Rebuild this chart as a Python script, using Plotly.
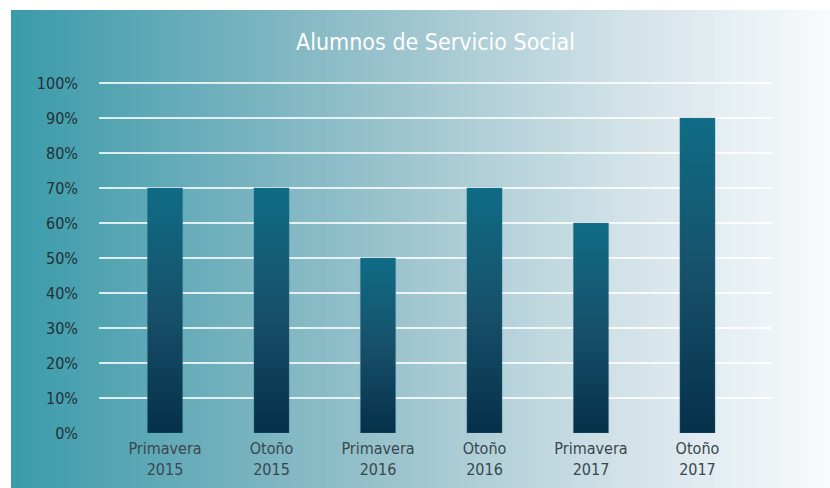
import plotly.graph_objects as go

# data
periodos = ['Primavera<br>2015', 'Otoño<br>2015', 'Primavera<br>2016',
            'Otoño<br>2016', 'Primavera<br>2017', 'Otoño<br>2017']
porcentaje = [0.70, 0.70, 0.50, 0.70, 0.60, 0.90]
ticks_y = [0, 0.1, 0.2, 0.3, 0.4, 0.5, 0.6, 0.7, 0.8, 0.9, 1.0]

W, H = 830, 488
L, R, T, B = 99, 58, 82, 55
ancho = 0.33
fuente = 'DejaVu Sans Condensed, Liberation Sans Narrow, Roboto, sans-serif'

fig = go.Figure()

# bars as filled shapes so each one gets its own vertical gradient
for i, v in enumerate(porcentaje):
    x0, x1 = i - ancho / 2, i + ancho / 2
    fig.add_trace(go.Scatter(
        x=[x0, x0, x1, x1, x0], y=[0, v, v, 0, 0],
        mode='lines', line=dict(width=0.6, color='rgba(60,120,145,0.6)'),
        fill='toself',
        fillgradient=dict(type='vertical',
                          colorscale=[[0, '#05304a'], [0.5, '#17506a'], [1, '#0f6c86']]),
        hoverinfo='skip', showlegend=False))

# background gradient from teal to near white, drawn as thin strips
def mezcla(c1, c2, t):
    a = [int(c1[k:k + 2], 16) for k in (1, 3, 5)]
    b = [int(c2[k:k + 2], 16) for k in (1, 3, 5)]
    return 'rgb(%d,%d,%d)' % tuple(round(a[j] + (b[j] - a[j]) * t) for j in range(3))

paradas = [(0, '#3a9ba9'), (0.25, '#6fafbc'), (0.5, '#a2c7d0'), (0.75, '#d2e2e8'), (1, '#f9fbfc')]
def color_en(t):
    for (p0, c0), (p1, c1) in zip(paradas[:-1], paradas[1:]):
        if t <= p1:
            return mezcla(c0, c1, (t - p0) / (p1 - p0))
    return paradas[-1][1]

pw, ph = W - L - R, H - T - B
x_ini, x_fin, y_top = 11, W, 10
n = 120
shapes = []
for k in range(n):
    a = x_ini + (x_fin - x_ini) * k / n
    b = x_ini + (x_fin - x_ini) * (k + 1) / n + 1
    shapes.append(dict(type='rect', xref='paper', yref='paper', layer='below',
                       x0=(a - L) / pw, x1=(b - L) / pw,
                       y0=(H - B - H) / ph, y1=(H - B - y_top) / ph,
                       fillcolor=color_en((k + 0.5) / n), line=dict(width=0)))

fig.update_layout(
    width=W, height=H,
    margin=dict(l=L, r=R, t=T, b=B),
    paper_bgcolor='white', plot_bgcolor='rgba(0,0,0,0)',
    shapes=shapes,
    title=dict(text='Alumnos de Servicio Social', x=0.5, xref='paper', y=0.915,
               yanchor='middle', font=dict(family=fuente, size=23, color='white')),
    font=dict(family=fuente, color='#36434b'),
    xaxis=dict(range=[-0.62, 5.7], tickvals=list(range(len(periodos))), ticktext=periodos,
               showgrid=False, zeroline=False, showline=False, ticks='', automargin=False,
               ticklabelstandoff=4, tickfont=dict(size=16, color='#3a474f')),
    yaxis=dict(range=[0, 1.003], tickvals=ticks_y, tickformat='.0%', showgrid=True,
               gridcolor='rgba(255,255,255,0.8)', gridwidth=2, zeroline=False,
               ticks='', automargin=False,
               ticklabelstandoff=20, tickfont=dict(size=16, color='#23303a')),
)

fig.write_html('out.html', config={'displayModeBar': False},
               post_script="document.body.style.margin='0';")
